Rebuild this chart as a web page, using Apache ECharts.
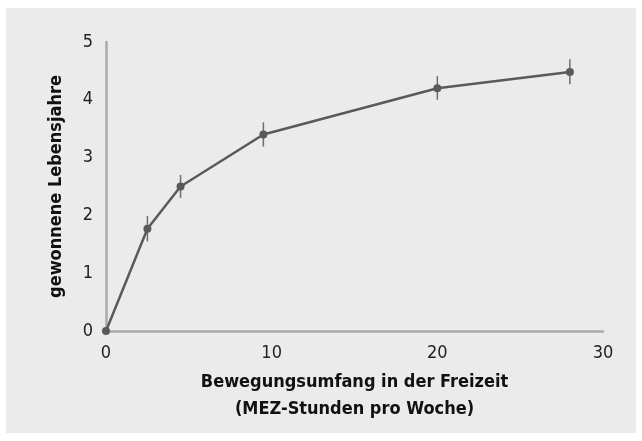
<!DOCTYPE html>
<html><head><meta charset="utf-8">
<script src="https://cdn.jsdelivr.net/npm/echarts@6/dist/echarts.min.js"></script>
<style>html,body{margin:0;padding:0;background:#fff}#c{width:642px;height:441px}</style>
</head><body><div id="c"></div>
<script>
const hours = [0, 2.5, 4.5, 9.5, 20, 28];
const yearsGained = [0, 1.77, 2.5, 3.4, 4.2, 4.48];
const errLow = [0, 1.55, 2.3, 3.19, 4.0, 4.27];
const errHigh = [0, 1.99, 2.7, 3.61, 4.41, 4.7];
const xTicks = [0, 10, 20, 30];
const yTicks = [0, 1, 2, 3, 4, 5];
const xTitle = 'Bewegungsumfang in der Freizeit\n(MEZ-Stunden pro Woche)';
const yTitle = 'gewonnene Lebensjahre';

const FONT = '"Liberation Sans Narrow", "DejaVu Sans Condensed", "Liberation Sans", sans-serif';
const chart = echarts.init(document.getElementById('c'), null, {renderer: 'canvas'});
const lineData = hours.map((h, i) => [h, yearsGained[i]]);
const errData = hours.map((h, i) => [h, errLow[i], errHigh[i]]).filter((d, i) => i > 0);

chart.setOption({
  backgroundColor: '#fff',
  animation: false,
  graphic: [
    {type: 'rect', shape: {x: 6, y: 8, width: 630, height: 425}, style: {fill: '#ebebeb'}, z: -10}
  ],
  grid: {left: 106, right: 39, top: 42, bottom: 110, containLabel: false},
  xAxis: {
    type: 'value', min: 0, max: 30, interval: 10,
    axisLine: {show: true, lineStyle: {color: '#aaaaaa', width: 2.5}},
    axisTick: {show: false}, splitLine: {show: false},
    axisLabel: {color: '#222', fontSize: 18, fontFamily: FONT, margin: 13},
    name: xTitle, nameLocation: 'middle', nameGap: 38,
    nameTextStyle: {color: '#111', fontSize: 18, fontWeight: 'bold', fontFamily: FONT, lineHeight: 27, verticalAlign: 'top'}
  },
  yAxis: {
    type: 'value', min: 0, max: 5, interval: 1,
    axisLine: {show: true, onZero: false, lineStyle: {color: '#aaaaaa', width: 2.5}},
    axisTick: {show: false}, splitLine: {show: false},
    axisLabel: {color: '#222', fontSize: 18, fontFamily: FONT, margin: 13},
    name: yTitle, nameLocation: 'middle', nameGap: 50,
    nameTextStyle: {color: '#111', fontSize: 18, fontWeight: 'bold', fontFamily: FONT, verticalAlign: 'middle'}
  },
  series: [
    {
      type: 'custom',
      data: errData,
      renderItem: function (params, api) {
        const top = api.coord([api.value(0), api.value(2)]);
        const bot = api.coord([api.value(0), api.value(1)]);
        return {type: 'line', shape: {x1: top[0], y1: top[1], x2: bot[0], y2: bot[1]},
          style: {stroke: '#6e6e6e', lineWidth: 1.5}};
      },
      z: 3
    },
    {
      type: 'line', data: lineData, symbol: 'circle', symbolSize: 8,
      lineStyle: {color: '#5a5a5a', width: 2.5},
      itemStyle: {color: '#5a5a5a'}, z: 4
    }
  ]
});
</script></body></html>
